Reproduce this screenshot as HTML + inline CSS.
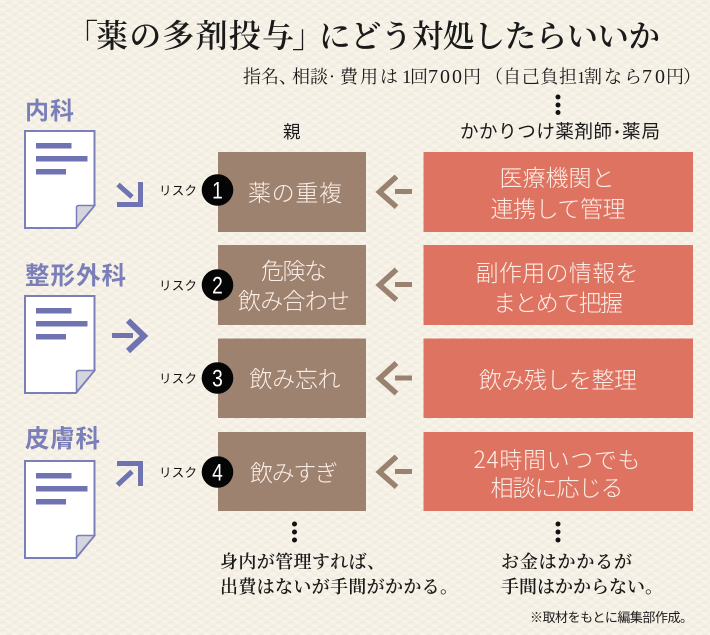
<!DOCTYPE html>
<html lang="ja"><head><meta charset="utf-8"><title>薬の多剤投与</title>
<style>
html,body{margin:0;padding:0;background:#f5f0e6}
svg{display:block}
.ser{font-family:"Noto Serif CJK JP","Noto Serif CJK SC","Liberation Serif",serif}
.dig{font-family:"Liberation Serif",serif}
.san{font-family:"Liberation Sans","Noto Sans CJK JP",sans-serif}
.w{fill:#fbeee7;font-size:23px;text-anchor:middle;font-family:"Noto Sans CJK JP",sans-serif;font-weight:300}
.cat{fill:#7b7fb9;font-weight:bold;font-family:"Noto Sans CJK JP",sans-serif}
.k{fill:#1a1a1a}
.n{fill:#fff;font-family:"Liberation Sans",sans-serif;font-size:24px;text-anchor:middle}
.r{fill:#111;font-size:12.5px;font-family:"Noto Sans CJK JP",sans-serif}
</style></head><body>
<svg xmlns="http://www.w3.org/2000/svg" width="710" height="635" viewBox="0 0 710 635">
<defs>
<pattern id="t" width="12" height="8" patternUnits="userSpaceOnUse">
<rect width="12" height="8" fill="#f5f0e6"/>
<ellipse cx="3" cy="2" rx="3" ry="1.2" fill="#f9f5ec"/>
<ellipse cx="9" cy="6" rx="3" ry="1.2" fill="#f9f5ec"/>
<ellipse cx="9" cy="2.5" rx="2.5" ry="0.8" fill="#f0eadd"/>
<ellipse cx="3" cy="6.5" rx="2.5" ry="0.8" fill="#f0eadd"/>
</pattern>
<g id="doc">
<path d="M25 1H94.500V75.500L76 98H25Z" fill="#fff" stroke="#7b7fb9" stroke-width="2"/>
<path d="M76.500 97V77.500Q76.500 75.500 79 75.500H94.500Z" fill="#d5d6dd" stroke="#7b7fb9" stroke-width="1.500"/>
<rect x="36" y="13" width="35.500" height="5.500" fill="#7073b2"/>
<rect x="36" y="26" width="51.500" height="5.500" fill="#7073b2"/>
<rect x="36" y="39" width="30" height="5.500" fill="#7073b2"/>
</g>
<g id="la"><path d="M396.500 176.500L379.500 192L396.500 207" fill="none" stroke="#9a8270" stroke-width="5.500"/><rect x="395" y="189" width="17" height="5" fill="#9a8270"/></g>
</defs>
<rect width="710" height="635" fill="url(#t)"/>

<g class="ser k" font-weight="600">
<text x="66" y="47" font-size="32">「</text>
<text x="96" y="47" font-size="32" textLength="198">薬の多剤投与</text>
<text x="292" y="47" font-size="32">」</text>
<text x="319" y="47" font-size="31.500" textLength="341">にどう対処したらいいか</text>
</g>
<g class="ser k" font-size="18">
<text x="243" y="83" textLength="54">指名、</text>
<text x="292" y="83" textLength="36">相談</text>
<text x="329" y="83">·</text>
<text x="340" y="83" textLength="58">費用は</text>
<text class="dig" x="402" y="83" font-size="19">1</text>
<text x="410" y="83">回</text>
<text class="dig" x="428" y="83" font-size="20" textLength="34">700</text>
<text x="463" y="83">円</text>
<text x="485" y="83">（</text>
<text x="503" y="83" textLength="74">自己負担</text>
<text class="dig" x="577" y="83" font-size="17">1</text>
<text x="584" y="83" textLength="58">割なら</text>
<text class="dig" x="642" y="83" font-size="20" textLength="23">70</text>
<text x="666" y="83">円</text>
<text x="683" y="83">）</text>
</g>
<text class="san k" x="283" y="138" font-size="17.500">親</text>
<text class="san k" x="460" y="138" font-size="18.500" textLength="152">かかりつけ薬剤師</text>
<circle cx="617" cy="132" r="1.600" fill="#1a1a1a"/>
<text class="san k" x="622" y="138" font-size="18.500" textLength="38">薬局</text>
<g fill="#111"><circle cx="558" cy="97" r="2.500"/><circle cx="558" cy="105" r="2.500"/><circle cx="558" cy="112.500" r="2.500"/>
<circle cx="294.500" cy="524" r="2.500"/><circle cx="294.500" cy="532" r="2.500"/><circle cx="294.500" cy="540" r="2.500"/>
<circle cx="558" cy="524" r="2.500"/><circle cx="558" cy="532" r="2.500"/><circle cx="558" cy="540" r="2.500"/></g>

<text class="cat" x="25" y="119" font-size="24" textLength="49">内科</text>
<text class="cat" x="25" y="284" font-size="24.500" textLength="101">整形外科</text>
<text class="cat" x="25" y="447" font-size="24.500" textLength="75">皮膚科</text>
<use href="#doc" y="130"/><use href="#doc" y="295"/><use href="#doc" y="460"/>

<g fill="none" stroke="#7073b2" stroke-width="5">
<path d="M118 184.500L132 197"/><path d="M140.500 182V204.500H117"/>
<path d="M112 335.500H133"/><path d="M128 320.500L144 336L128 351" stroke-width="6"/>
<path d="M117.500 485L132 471.500"/><path d="M117 463.500H140.500V486"/>
</g>

<g fill="#9e8270"><rect x="218" y="152" width="148" height="80"/><rect x="218" y="245" width="148" height="80"/><rect x="218" y="338.500" width="148" height="79.500"/><rect x="218" y="432" width="148" height="79"/></g>
<g fill="#de7361"><rect x="423.500" y="152" width="269.500" height="80"/><rect x="423.500" y="245" width="269.500" height="80"/><rect x="423.500" y="338.500" width="269.500" height="79.500"/><rect x="423.500" y="432" width="269.500" height="79"/></g>

<use href="#la"/><use href="#la" y="93"/><use href="#la" y="186.500"/><use href="#la" y="280"/>

<g fill="#050505"><circle cx="217.500" cy="190" r="15.800"/><circle cx="217.500" cy="285" r="15.800"/><circle cx="217.500" cy="378" r="15.800"/><circle cx="217.500" cy="472" r="15.800"/></g>
<text class="n" transform="translate(217.500 198.500) scale(.8 1)">1</text><text class="n" transform="translate(217.500 293.500) scale(.8 1)">2</text><text class="n" transform="translate(217.500 386.500) scale(.8 1)">3</text><text class="n" transform="translate(217.500 480.500) scale(.8 1)">4</text>
<text class="r" x="159" y="195" textLength="38">リスク</text>
<text class="r" x="159" y="290" textLength="38">リスク</text>
<text class="r" x="159" y="383" textLength="38">リスク</text>
<text class="r" x="159" y="477" textLength="38">リスク</text>

<text class="w" x="295" y="201" textLength="94">薬の重複</text>
<text class="w" x="294" y="279" textLength="66">危険な</text>
<text class="w" x="294" y="309" textLength="112">飲み合わせ</text>
<text class="w" x="295" y="387" textLength="91">飲み忘れ</text>
<text class="w" x="294" y="481" textLength="88">飲みすぎ</text>

<text class="w" x="557" y="186" textLength="115">医療機関と</text>
<text class="w" x="558" y="217" textLength="135">連携して管理</text>
<text class="w" x="557" y="281" textLength="163">副作用の情報を</text>
<text class="w" x="558" y="311" textLength="130">まとめて把握</text>
<text class="w" x="558" y="388" textLength="158">飲み残しを整理</text>
<text class="w" x="557" y="468" textLength="167">24時間いつでも</text>
<text class="w" x="557" y="496" textLength="133">相談に応じる</text>

<g class="ser k" font-size="18" font-weight="600">
<text x="220" y="568" textLength="165">身内が管理すれば、</text>
<text x="220" y="593" textLength="238">出費はないが手間がかかる。</text>
<text x="501" y="568" textLength="131">お金はかかるが</text>
<text x="501" y="593" textLength="162">手間はかからない。</text>
</g>
<text class="san k" x="530" y="622" font-size="13" textLength="163">※取材をもとに編集部作成。</text>
</svg>
</body></html>
